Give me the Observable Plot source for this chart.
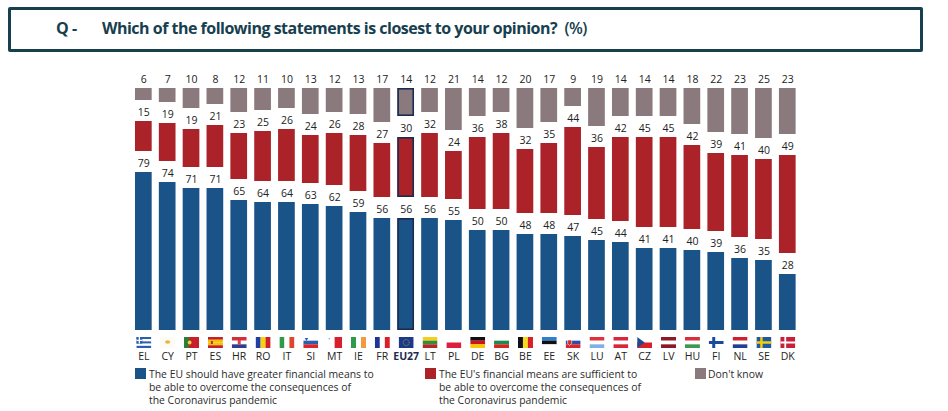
<!DOCTYPE html>
<html><head><meta charset="utf-8">
<script src="https://cdn.jsdelivr.net/npm/d3@7"></script>
<script src="https://cdn.jsdelivr.net/npm/@observablehq/plot@0.6"></script>
<style>
html,body{margin:0;padding:0;background:#fff;width:948px;height:411px;overflow:hidden;font-family:"Open Sans",sans-serif}
#head{position:absolute;left:8px;top:7px;width:909px;height:39px;border:3px solid #17404f;border-radius:2px;color:#17404f;font-weight:700;font-size:16px;letter-spacing:-.5px}
#head span{position:absolute;top:7px;white-space:nowrap}
#chart{position:absolute;left:0;top:60px}
.lg{position:absolute;top:367.5px;font-size:10.4px;line-height:13px;color:#2b2b2b;white-space:nowrap}
.sw{position:absolute;top:368px;width:11px;height:11px}
</style></head><body>
<div id="head"><span id="q" style="left:45px">Q -</span><span id="t" style="left:91px">Which of the following statements is closest to your opinion?&nbsp; <span style="position:static;font-weight:600">(%)</span></span></div>
<div id="chart"></div>
<div id="legend"></div>
<script>
const codes = ["EL","CY","PT","ES","HR","RO","IT","SI","MT","IE","FR","EU27","LT","PL","DE","BG","BE","EE","SK","LU","AT","CZ","LV","HU","FI","NL","SE","DK"];
const greater = [79,74,71,71,65,64,64,63,62,59,56,56,56,55,50,50,48,48,47,45,44,41,41,40,39,36,35,28];
const sufficient = [15,19,19,21,23,25,26,24,26,28,27,30,32,24,36,38,32,35,44,36,42,45,45,42,39,41,40,49];
const dontKnow = [6,7,10,8,12,11,10,13,12,13,17,14,12,21,14,12,20,17,9,19,14,14,14,18,22,23,25,23];
const seriesNames = [
  "The EU should have greater financial means to<br>be able to overcome the consequences of<br>the Coronavirus pandemic",
  "The EU's financial means are sufficient to<br>be able to overcome the consequences of<br>the Coronavirus pandemic",
  "Don't know"];
const seriesColors = ["#1a5387","#ab2229","#8a797d"];
const highlight = "EU27";
const gap = 10.5;

// flags: direction + stripe colours, plus optional extra svg shapes
const flagStripes = {
  EL:["h","#2a5fb0","#fff","#2a5fb0","#fff","#2a5fb0"],CY:["h","#fdfcf4"],PT:["v","#2e7d32","#c8202a","#c8202a"],ES:["h","#c8202a","#f5c400","#f5c400","#c8202a"],
  HR:["h","#d0303a","#fff","#2c3f90"],RO:["v","#1f3fa6","#f8d20c","#ce2028"],IT:["v","#2e9a4a","#fff","#e0452c"],SI:["h","#fff","#2a5db0","#d8262c"],
  MT:["v","#fff","#d8202a"],IE:["v","#2e9a4a","#fff","#f09a42"],FR:["v","#1f3596","#fff","#d8202a"],EU27:["h","#1c3a8a"],LT:["h","#f0d020","#3a8a3a","#b02a2a"],
  PL:["h","#fff","#dc1f3c"],DE:["h","#111","#d0121c","#f8c800"],BG:["h","#fff","#1f8a50","#cf2a20"],BE:["v","#111","#f8d820","#d8202a"],EE:["h","#2f7fd0","#111","#fff"],
  SK:["h","#fff","#2a4fa8","#d8262c"],LU:["h","#e0303a","#fff","#7fb0e8"],AT:["h","#d8263a","#fff","#d8263a"],CZ:["h","#fff","#d8202a"],LV:["h","#8c1a26","#fff","#8c1a26"],
  HU:["h","#d8303a","#fff","#3a9a50"],FI:["h","#fff"],NL:["h","#cf2030","#fff","#213f94"],SE:["h","#1f5aa0"],DK:["h","#c8203a"]};
const flagExtras = {
  EL:'<rect width="6" height="6.6" fill="#2a5fb0"/><path d="M3 0V6.6M0 3.3H6" stroke="#fff" stroke-width="1.3"/>',
  CY:'<ellipse cx="7.5" cy="5" rx="2.6" ry="1.7" fill="#e2b64a"/>',
  PT:'<circle cx="5.6" cy="5.5" r="1.9" fill="#f2d040"/>',
  ES:'<rect x="3" y="4" width="2" height="3" fill="#b03020"/>',
  HR:'<rect x="6" y="3" width="3" height="4.6" fill="#d8404a"/>',
  SI:'<path d="M1.5 1H5L3.2 4Z" fill="#2a5db0"/>',
  MT:'<rect x="1.5" y="1" width="1.4" height="1.4" fill="#aaa"/>',
  EU27:'<circle cx="7.5" cy="5.5" r="3" fill="none" stroke="#e8c820" stroke-width=".7" stroke-dasharray=".8 .8"/>',
  SK:'<path d="M2 3H6V6.5L4 8.5 2 6.5Z" fill="#d8262c" stroke="#fff" stroke-width=".6"/>',
  CZ:'<path d="M0 0L7.5 5.5 0 11Z" fill="#1f4a90"/>',
  FI:'<path d="M5 0V11M0 5.5H15" stroke="#1a4aa0" stroke-width="3"/>',
  SE:'<path d="M5 0V11M0 5.5H15" stroke="#f5cc10" stroke-width="2.4"/>',
  DK:'<path d="M5 0V11M0 5.5H15" stroke="#fff" stroke-width="1.8"/>'};
function flagUri(c){
  const [dir,...cols]=flagStripes[c]; const n=cols.length; let s="";
  cols.forEach((col,i)=>{ s+= dir==="h" ? `<rect y="${i*11/n}" width="15" height="${11/n+.05}" fill="${col}"/>` : `<rect x="${i*15/n}" width="${15/n+.05}" height="11" fill="${col}"/>`; });
  const svg=`<svg xmlns="http://www.w3.org/2000/svg" viewBox="0 0 15 11" width="15" height="11">${s}${flagExtras[c]||""}</svg>`;
  return "data:image/svg+xml;charset=utf-8,"+encodeURIComponent(svg);
}

const rows = codes.flatMap((code,i)=>{
  const a=greater[i],b=sufficient[i],c=dontKnow[i];
  return [
    {code,s:0,value:a,y1:0,y2:a},
    {code,s:1,value:b,y1:a+gap,y2:a+gap+b},
    {code,s:2,value:c,y1:a+b+2*gap,y2:a+b+c+2*gap}
  ];
});
const fill = d=>seriesColors[d.s];
const plot = Plot.plot({
  width:948,height:306,
  marginLeft:131.4,marginRight:148.8,marginTop:0,marginBottom:36,
  style:{background:"transparent",fontFamily:'"Open Sans",sans-serif',fontSize:"10.5px",color:"#222"},
  x:{type:"band",domain:codes,paddingInner:.3,paddingOuter:.15,round:false,label:null},
  y:{domain:[0,135],range:[270,0],axis:null},
  marks:[
    Plot.rectY(rows,{x:"code",y1:"y1",y2:"y2",fill}),
    Plot.rectY(rows.filter(d=>d.code===highlight),{x:"code",y1:"y1",y2:"y2",fill:"none",stroke:"#1c2c50",strokeWidth:1.6,inset:0.8}),
    Plot.text(rows,{x:"code",y:"y2",text:"value",dy:-9,fill:"#222",fontSize:10.5}),
    Plot.image(codes,{x:d=>d,src:flagUri,frameAnchor:"bottom",dy:12,width:15,height:11}),
    Plot.axisX(codes.filter(c=>c!==highlight),{tickSize:0,tickPadding:22,label:null,fontSize:10.5,fill:"#222"}),
    Plot.axisX([highlight],{tickSize:0,tickPadding:22,label:null,fontSize:10.5,fontWeight:700,fill:"#1c2c50"})
  ]
});
document.getElementById("chart").appendChild(plot);
const swX=[135,425,695], txX=[149,439,708];
document.getElementById("legend").innerHTML = seriesNames.map((n,i)=>
 `<div class="sw" style="left:${swX[i]}px;background:${seriesColors[i]}"></div><div class="lg" style="left:${txX[i]}px">${n}</div>`).join("");
</script>
</body></html>
